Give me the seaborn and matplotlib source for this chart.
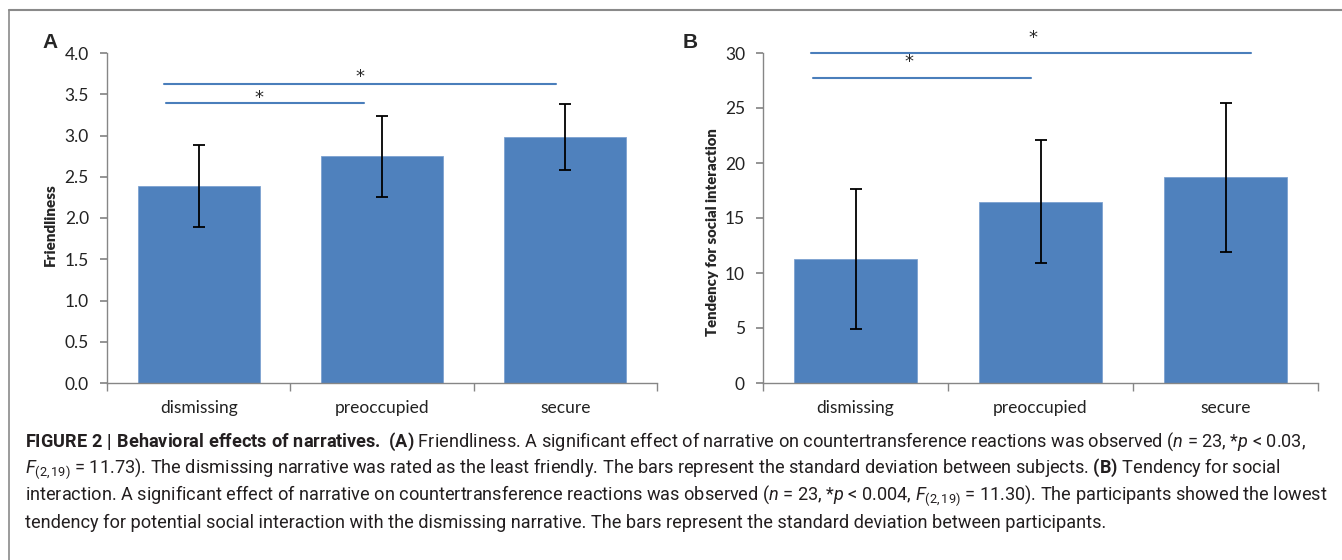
import matplotlib
matplotlib.use('Agg')
import pandas as pd
import seaborn as sns
import matplotlib.pyplot as plt
from matplotlib.lines import Line2D

# data
categories = ['dismissing', 'preoccupied', 'secure']
friend_mean = [2.39, 2.75, 2.98]
friend_sd = [0.50, 0.49, 0.40]
social_mean = [11.3, 16.5, 18.7]
social_sd = [6.35, 5.55, 6.75]

sns.set_theme(style='white')
plt.rcParams['font.family'] = ['Lato', 'DejaVu Sans']
plt.rcParams['mathtext.fontset'] = 'custom'
plt.rcParams['mathtext.rm'] = 'Roboto'
plt.rcParams['mathtext.it'] = 'Roboto:italic'
plt.rcParams['mathtext.bf'] = 'Roboto:bold'

bar_col = '#4F81BD'
line_col = '#4A7EBB'
axis_col = '#868686'

fig = plt.figure(figsize=(13.42, 5.6), dpi=100)
axA = fig.add_axes([107/1342, 1-383/560, 550/1342, 330/560])
axB = fig.add_axes([763/1342, 1-383/560, 555/1342, 330/560])


def draw_panel(ax, means, sds, ylabel, ymax, ystep, fmt, label_x, label_y, label_size):
    df = pd.DataFrame({'cond': categories, 'val': means})
    sns.barplot(data=df, x='cond', y='val', color=bar_col, saturation=1,
                width=0.667, errorbar=None, ax=ax, edgecolor='#7DA2D0', linewidth=0.6)
    ax.errorbar(range(len(categories)), means, yerr=sds, fmt='none',
                ecolor='black', elinewidth=1.3, capsize=4, capthick=1.3)
    ax.set_xlim(-0.5, 2.5)
    ax.set_ylim(0, ymax)
    ticks = [i * ystep for i in range(int(round(ymax / ystep)) + 1)]
    ax.set_yticks(ticks)
    ax.set_yticklabels([fmt.format(t) for t in ticks], fontsize=12.5, color='#222222')
    ax.set_xticks(range(len(categories)))
    ax.set_xticklabels(categories, fontsize=12.5, color='#222222')
    ax.set_xticks([-0.5, 0.5, 1.5, 2.5], minor=True)
    ax.tick_params(axis='x', which='major', length=0, pad=12)
    ax.tick_params(axis='x', which='minor', length=6, direction='out', color=axis_col, bottom=True)
    ax.tick_params(axis='y', length=5, direction='out', color=axis_col, left=True, pad=8)
    ax.set_xlabel('')
    ax.set_ylabel(ylabel, fontsize=label_size, fontweight='heavy')
    ax.yaxis.set_label_coords(label_x, label_y)
    for s in ['top', 'right']:
        ax.spines[s].set_visible(False)
    for s in ['left', 'bottom']:
        ax.spines[s].set_color(axis_col)
        ax.spines[s].set_linewidth(1.0)


draw_panel(axA, friend_mean, friend_sd, 'Friendliness', 4.0, 0.5, '{:.1f}', -0.091, 0.479, 11)
draw_panel(axB, social_mean, social_sd, 'Tendency for social interaction', 30, 5, '{:.0f}', -0.079, 0.458, 10.7)

# significance bars
star_kw = dict(ha='center', va='center', fontsize=13, family='DejaVu Sans')
axA.plot([-0.19, 1.95], [3.62, 3.62], color=line_col, lw=1.5, clip_on=False)
axA.text(0.88, 3.71, '*', **star_kw)
axA.plot([-0.18, 0.90], [3.40, 3.40], color=line_col, lw=1.5, clip_on=False)
axA.text(0.33, 3.46, '*', **star_kw)

axB.plot([-0.24, 2.14], [30.0, 30.0], color=line_col, lw=1.5, clip_on=False)
axB.text(0.96, 31.4, '*', clip_on=False, **star_kw)
axB.plot([-0.23, 0.95], [27.7, 27.7], color=line_col, lw=1.5, clip_on=False)
axB.text(0.29, 29.2, '*', **star_kw)

fig.text(42/1342, 1-43/560, 'A', fontsize=15, fontweight='bold', family='Liberation Sans', va='center')
fig.text(683/1342, 1-43/560, 'B', fontsize=15, fontweight='bold', family='Liberation Sans', va='center')

# frame lines
fig.add_artist(Line2D([9/1342, 1.0], [1-10/560, 1-10/560], color='#8a8a8a', lw=1.5))
fig.add_artist(Line2D([9/1342, 9/1342], [0, 1-10/560], color='#8a8a8a', lw=1.2))

caption = [
    r"$\mathbf{FIGURE\ 2\ |\ Behavioral\ effects\ of\ narratives.\ (A)}$ Friendliness. A significant effect of narrative on countertransference reactions was observed ($n$ = 23, *$p$ < 0.03,",
    r"$F_{\mathrm{(2,19)}}$ = 11.73). The dismissing narrative was rated as the least friendly. The bars represent the standard deviation between subjects. $\mathbf{(B)}$ Tendency for social",
    r"interaction. A significant effect of narrative on countertransference reactions was observed ($n$ = 23, *$p$ < 0.004, $F_{\mathrm{(2,19)}}$ = 11.30). The participants showed the lowest",
    r"tendency for potential social interaction with the dismissing narrative. The bars represent the standard deviation between participants.",
]
for i, line in enumerate(caption):
    fig.text(25/1342, 1-(442 + 27*i)/560, line, fontsize=13.1, va='center', ha='left',
             family=['Roboto', 'DejaVu Sans'], color='#231f20')

fig.savefig('out.png', dpi=100)
